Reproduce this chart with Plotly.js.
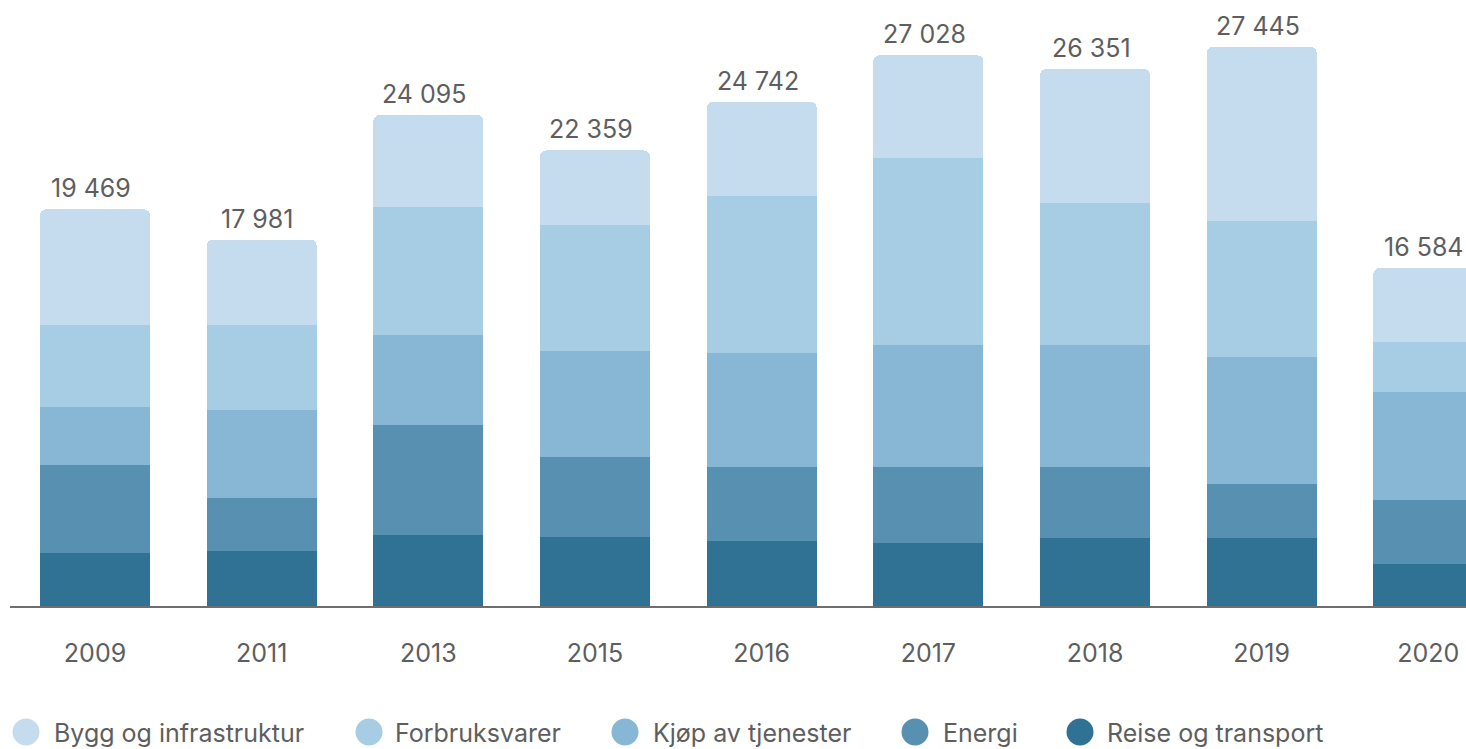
<!DOCTYPE html>
<html>
<head>
<meta charset="utf-8">
<script src="https://cdn.plot.ly/plotly-3.0.1.min.js"></script>
<style>
html,body{margin:0;padding:0;background:#fff;overflow:hidden;}
#chart{width:1466px;height:749px;}
</style>
</head>
<body>
<div id="chart"></div>
<script>
// Categories (years)
const years = ["2009", "2011", "2013", "2015", "2016", "2017", "2018", "2019", "2020"];

// Series values (stack order bottom -> top)
const reiseOgTransport   = [2586, 2680, 3470, 3363, 3186, 3078, 3357, 3328, 2039];
const energi             = [4319, 2645, 5399, 3945, 3641, 3752, 3450, 2667, 3146];
const kjopAvTjenester    = [2847, 4315, 4417, 5199, 5608, 5992, 5990, 6209, 5321];
const forbruksvarer      = [4039, 4135, 6282, 6217, 7701, 9179, 6987, 6696, 2466];
const byggOgInfrastruktur= [5678, 4206, 4527, 3635, 4606, 5027, 6567, 8545, 3612];

// Series names (legend order)
const seriesNames = ["Bygg og infrastruktur", "Forbruksvarer", "Kjøp av tjenester", "Energi", "Reise og transport"];

const colors = {
  "Bygg og infrastruktur": "#c5dcef",
  "Forbruksvarer": "#a6cde4",
  "Kjøp av tjenester": "#88b7d5",
  "Energi": "#5790b0",
  "Reise og transport": "#307294"
};

const FONT = "Inter, 'Open Sans', sans-serif";
const TEXT_COLOR = "#5e5e5e";
const FS = 25;

const stack = [
  ["Reise og transport", reiseOgTransport],
  ["Energi", energi],
  ["Kjøp av tjenester", kjopAvTjenester],
  ["Forbruksvarer", forbruksvarer],
  ["Bygg og infrastruktur", byggOgInfrastruktur]
];

const traces = stack.map(([name, vals]) => ({
  type: "bar",
  name: name,
  x: years,
  y: vals,
  marker: {color: colors[name], line: {width: 0}},
  showlegend: false,
  hoverinfo: "x+y+name"
}));

const totals = years.map((_, i) => stack.reduce((s, [, v]) => s + v[i], 0));
const fmt = n => String(n).replace(/\B(?=(\d{3})+(?!\d))/g, " ");

// Layout geometry (pixels)
const W = 1466, H = 749;
const mL = 10, mR = 0, mT = 20, mB = 143;
const plotW = W - mL - mR, plotH = H - mT - mB;
const px2paperX = px => (px - mL) / plotW;
const px2paperY = py => (H - mB - py) / plotH;

const annotations = years.map((yr, i) => ({
  x: i, y: totals[i], xref: "x", yref: "y",
  text: fmt(totals[i]), showarrow: false,
  yanchor: "bottom", xanchor: "center", yshift: 4, xshift: -4,
  font: {family: FONT, size: FS, color: TEXT_COLOR}
}));

// Custom legend with circular markers
const legendCircleX = [26, 369, 625, 915, 1080];
const legendTextX = [52, 393, 651, 941, 1105];
const legendY = 732;
const R = 13.5;
const shapes = [];
seriesNames.forEach((name, i) => {
  shapes.push({
    type: "circle", xref: "paper", yref: "paper",
    x0: px2paperX(legendCircleX[i] - R), x1: px2paperX(legendCircleX[i] + R),
    y0: px2paperY(legendY + R), y1: px2paperY(legendY - R),
    fillcolor: colors[name], line: {width: 0}
  });
  annotations.push({
    xref: "paper", yref: "paper",
    x: px2paperX(legendTextX[i]), y: px2paperY(legendY + 1),
    xanchor: "left", yanchor: "middle", showarrow: false,
    text: name, font: {family: FONT, size: FS, color: TEXT_COLOR}
  });
});

const yPerPx = 49.08;
const layout = {
  width: W, height: H,
  margin: {l: mL, r: mR, t: mT, b: mB, pad: 0},
  paper_bgcolor: "#ffffff", plot_bgcolor: "#ffffff",
  barmode: "stack",
  bargap: 0.34,
  barcornerradius: 6,
  separators: ", ",
  font: {family: FONT, size: FS, color: TEXT_COLOR},
  showlegend: false,
  xaxis: {
    type: "category",
    range: [-0.51, -0.51 + plotW / 166.67],
    showline: true, linecolor: "#6e6e6e", linewidth: 2,
    ticks: "", showgrid: false, zeroline: false,
    ticklabelstandoff: 24,
    tickfont: {family: FONT, size: FS, color: TEXT_COLOR},
    fixedrange: true
  },
  yaxis: {
    range: [0, plotH * yPerPx],
    visible: false, showgrid: false, zeroline: false, fixedrange: true
  },
  annotations: annotations,
  shapes: shapes
};

Plotly.newPlot("chart", traces, layout, {displayModeBar: false, staticPlot: true});
</script>
</body>
</html>
